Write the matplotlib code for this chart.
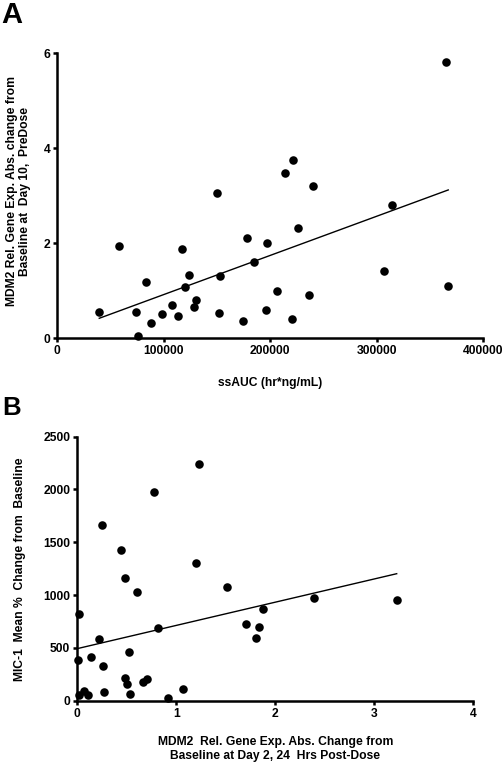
import matplotlib
matplotlib.use("Agg")
import matplotlib.pyplot as plt
import numpy as np

plt.rcParams['font.family'] = ['Liberation Sans', 'DejaVu Sans']
plt.rcParams['font.weight'] = 'bold'

# panel A: ssAUC vs MDM2 change at day 10 predose
auc = [39400, 58200, 73500, 76100, 83300, 87700, 98300, 107700, 113600, 116800,
       119900, 123700, 128700, 130200, 149700, 151800, 153100, 174700, 178100, 184700,
       195700, 197200, 206000, 213500, 220700, 221600, 226300, 236300, 240400, 306800,
       314000, 364700, 367100]
mdm2_d10 = [0.54, 1.94, 0.55, 0.04, 1.18, 0.31, 0.51, 0.70, 0.46, 1.87,
            1.07, 1.32, 0.65, 0.79, 3.05, 0.53, 1.31, 0.36, 2.11, 1.59,
            0.59, 2.01, 1.00, 3.47, 0.41, 3.75, 2.32, 0.90, 3.21, 1.41,
            2.79, 5.82, 1.09]
a_xticks = [0, 100000, 200000, 300000, 400000]
a_yticks = [0, 2, 4, 6]

# panel B: MDM2 change at day 2 vs MIC-1 mean % change
mdm2_d2 = [1.229, 0.772, 0.246, 0.445, 1.202, 0.482, 0.600, 1.512, 0.020, 1.701,
           0.812, 0.219, 0.522, 0.004, 0.141, 0.256, 0.482, 0.701, 0.660, 0.502,
           1.068, 0.273, 0.064, 0.535, 0.014, 0.108, 0.913, 1.879, 1.832, 1.808,
           2.391, 3.226]
mic1 = [2244, 1973, 1667, 1430, 1301, 1165, 1026, 1074, 824, 729,
        688, 587, 464, 385, 417, 329, 218, 208, 174, 158,
        114, 80, 95, 60, 54, 51, 23, 871, 695, 594,
        970, 957]
b_xticks = [0, 1, 2, 3, 4]
b_yticks = [0, 500, 1000, 1500, 2000, 2500]

W, H = 503, 763
FS = 8.7


def style_axes(ax, xticks, yticks):
    for s in ['top', 'right']:
        ax.spines[s].set_visible(False)
    for s in ['left', 'bottom']:
        ax.spines[s].set_linewidth(1.8)
    ax.set_xticks(xticks)
    ax.set_yticks(yticks)
    ax.set_xticklabels([str(t) for t in xticks])
    ax.set_yticklabels([str(t) for t in yticks])
    ax.set_xlim(xticks[0], xticks[-1])
    ax.set_ylim(yticks[0], yticks[-1])
    ax.tick_params(direction='out', length=3, width=1.8, labelsize=FS, pad=2)
    for lbl in ax.get_xticklabels() + ax.get_yticklabels():
        lbl.set_fontweight('bold')


def scatter_fit(ax, x, y):
    ax.scatter(x, y, s=38, color='black', zorder=3, clip_on=False, linewidths=0)
    k, b = np.polyfit(x, y, 1)
    xs = np.array([min(x), max(x)])
    ax.plot(xs, k * xs + b, color='black', lw=1.0)


def px_text(x, y, s, **kw):
    # place text by pixel position measured from top-left
    fig.text(x / W, 1 - y / H, s, fontweight='bold', **kw)


fig = plt.figure(figsize=(W / 100, H / 100), dpi=100)

axA = fig.add_axes([0.1139, 0.557, 0.8469, 0.3735])
scatter_fit(axA, auc, mdm2_d10)
style_axes(axA, a_xticks, a_yticks)
px_text(270, 383, "ssAUC (hr*ng/mL)", fontsize=FS, ha='center', va='center')
px_text(18.5, 191.5, "MDM2 Rel. Gene Exp. Abs. change from\nBaseline at  Day 10,  PreDose",
        fontsize=FS, ha='center', va='center', rotation=90, multialignment='center',
        linespacing=1.2)

axB = fig.add_axes([0.1537, 0.0817, 0.7873, 0.346])
scatter_fit(axB, mdm2_d2, mic1)
style_axes(axB, b_xticks, b_yticks)
px_text(275.5, 749, "MDM2  Rel. Gene Exp. Abs. Change from\nBaseline at Day 2, 24  Hrs Post-Dose",
        fontsize=FS, ha='center', va='center', multialignment='center', linespacing=1.2)
px_text(20, 569, "MIC-1  Mean %  Change from  Baseline", fontsize=FS,
        ha='center', va='center', rotation=90)

px_text(1, 1, "A", fontsize=21, va='top', ha='left')
px_text(2, 396, "B", fontsize=18.5, va='top', ha='left')

fig.savefig("out.png", dpi=100)
